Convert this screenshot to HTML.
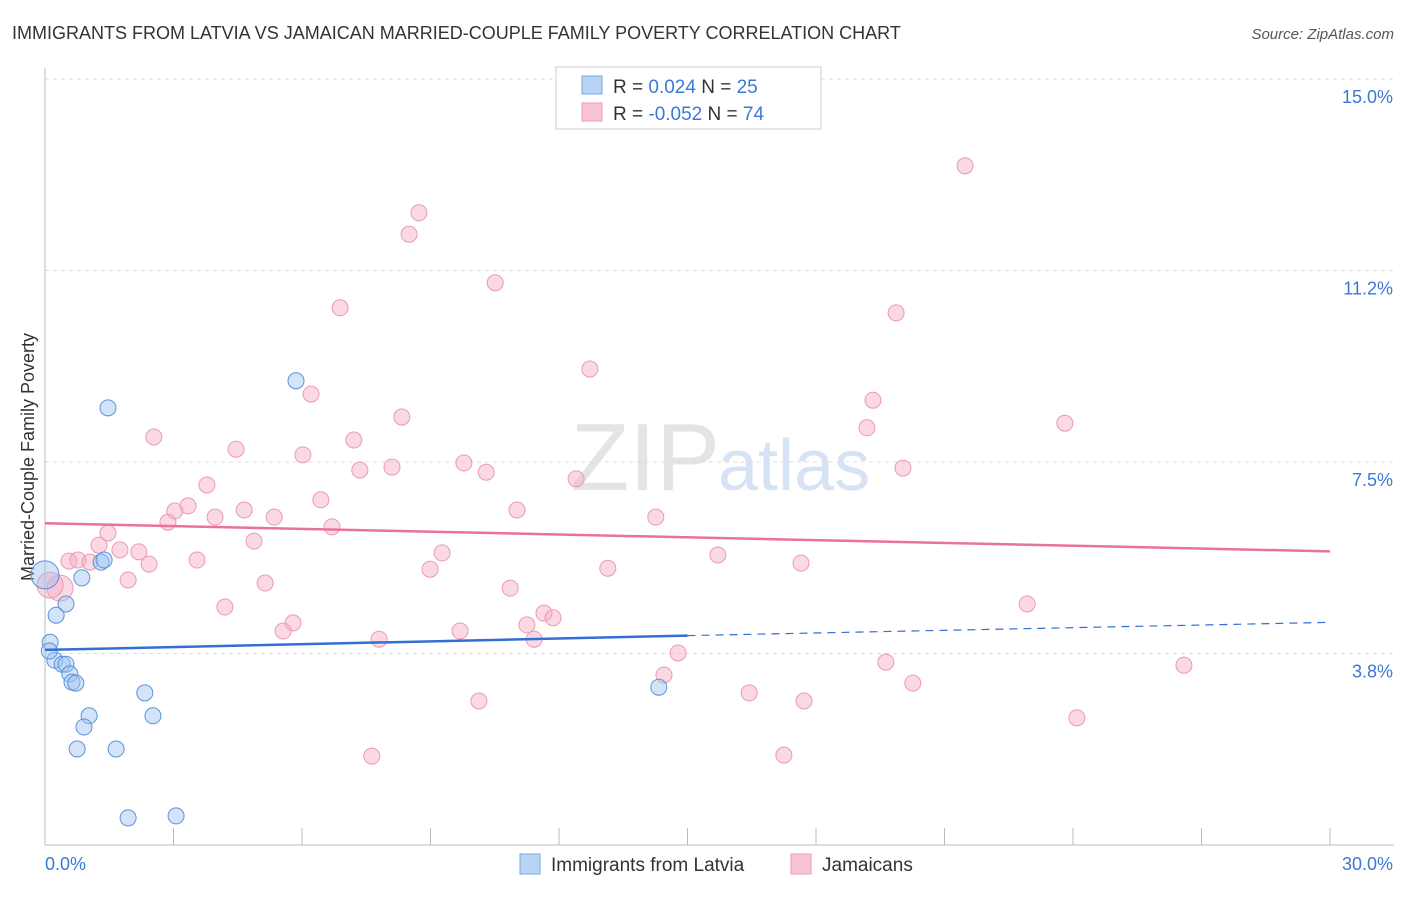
<!DOCTYPE html>
<html><head><meta charset="utf-8"><style>
body{margin:0;background:#fff;font-family:"Liberation Sans",sans-serif;}
svg text{font-family:"Liberation Sans",sans-serif;}
</style></head><body>
<svg id="c" width="1406" height="892" xmlns="http://www.w3.org/2000/svg">
<text x="12" y="39" font-size="18" fill="#333">IMMIGRANTS FROM LATVIA VS JAMAICAN MARRIED-COUPLE FAMILY POVERTY CORRELATION CHART</text>
<text x="1394" y="39" font-size="15" fill="#555" font-style="italic" text-anchor="end">Source: ZipAtlas.com</text>
<text x="0" y="0" transform="translate(34,457) rotate(-90)" font-size="18" fill="#333" text-anchor="middle">Married-Couple Family Poverty</text>
<text x="720" y="490" font-size="96" fill="#e4e4e4" text-anchor="end" font-family="Liberation Serif">ZIP</text>
<text x="718" y="490" font-size="72" fill="#d6e3f5">atlas</text>
<g id="grid"></g><g id="pts"></g><g id="lines"></g>
<g>
<rect x="556" y="67" width="265" height="62" fill="#fff" stroke="#ccc"/>
<rect x="582" y="76" width="20" height="18" fill="#b8d4f5" stroke="#7aa8e0"/>
<rect x="582" y="103" width="20" height="18" fill="#f9c5d4" stroke="#eb9ab2"/>
<text x="613" y="93" font-size="19" fill="#333">R = <tspan fill="#3b78d8">0.024</tspan>   N = <tspan fill="#3b78d8">25</tspan></text>
<text x="613" y="120" font-size="19" fill="#333">R = <tspan fill="#3b78d8">-0.052</tspan>   N = <tspan fill="#3b78d8">74</tspan></text>
</g>
<g>
<rect x="520" y="854" width="20" height="20" fill="#b8d4f5" stroke="#7aa8e0"/>
<text x="551" y="871" font-size="19" fill="#333">Immigrants from Latvia</text>
<rect x="791" y="854" width="20" height="20" fill="#f9c5d4" stroke="#eb9ab2"/>
<text x="822" y="871" font-size="19" fill="#333">Jamaicans</text>
</g>
</svg>
<script>
const xTicks=[0,3,6,9,12,15,18,21,24,27,30];
const yTicks=[3.75,7.5,11.25,15];
const yTickLabels=["3.8%","7.5%","11.2%","15.0%"];
const latviaX=[1.47,5.86,0.86,0.49,0.26,0.12,0.23,0.40,0.49,0.58,0.63,0.72,1.03,0.91,0.75,1.66,2.52,2.33,1.94,3.06,14.33,1.31,1.38,0.0,0.1];
const latviaY=[8.56,9.09,5.23,4.72,4.50,3.97,3.62,3.54,3.54,3.35,3.19,3.17,2.53,2.31,1.88,1.88,2.53,2.98,0.53,0.57,3.09,5.54,5.58,5.29,3.8];
const jamX=[21.48,8.73,8.50,10.51,6.89,19.87,12.72,6.21,19.33,8.33,23.81,19.19,2.54,7.21,4.46,6.02,9.78,8.10,7.35,10.30,20.03,12.40,3.78,6.44,3.34,3.03,4.65,11.02,14.26,2.87,3.97,5.35,6.70,1.47,4.88,1.26,1.75,2.19,0.56,0.77,1.05,3.55,2.43,9.27,15.71,17.65,13.14,8.99,1.94,5.14,10.86,0.35,0.12,4.20,22.93,11.65,11.86,5.79,11.25,5.56,9.69,7.80,11.42,14.78,19.63,14.45,26.59,20.26,16.44,10.13,17.72,24.09,7.63,17.25];
const jamY=[13.30,12.38,11.96,11.01,10.52,10.42,9.32,8.83,8.71,8.38,8.26,8.17,7.99,7.93,7.75,7.64,7.48,7.40,7.34,7.30,7.38,7.17,7.05,6.76,6.64,6.54,6.56,6.56,6.42,6.32,6.42,6.42,6.23,6.11,5.95,5.87,5.78,5.74,5.56,5.58,5.54,5.58,5.50,5.72,5.68,5.52,5.42,5.40,5.19,5.13,5.03,5.03,5.09,4.66,4.72,4.54,4.45,4.35,4.31,4.19,4.19,4.03,4.03,3.76,3.58,3.33,3.52,3.17,2.98,2.82,2.82,2.49,1.74,1.76];
const latviaTrend=[3.82,4.10,4.36];
const jamTrend=[6.30,5.75];
const X=v=>45+v/30*1285, Y=v=>845-v/15*766;
const NS="http://www.w3.org/2000/svg";
function mk(t,a,p){const e=document.createElementNS(NS,t);for(const k in a)e.setAttribute(k,a[k]);p.appendChild(e);return e;}
const g=document.getElementById('grid');
yTicks.forEach((t,i)=>{
 const l=mk('line',{x1:45,x2:1394,y1:Y(t),y2:Y(t),stroke:'#ddd','stroke-dasharray':'4,4'},g);
 
 
 const tx=mk('text',{x:1393,y:Y(t)+24,'font-size':18,fill:'#3b78d8','text-anchor':'end'},g);tx.textContent=yTickLabels[i];
 
 
});
mk('line',{x1:45,x2:45,y1:68,y2:845,stroke:'#bbb'},g);
mk('line',{x1:45,x2:1394,y1:845,y2:845,stroke:'#bbb'},g);
xTicks.forEach(t=>{const l=mk('line',{x1:X(t),x2:X(t),y1:828,y2:845,stroke:'#bbb'},g);
 
 });
let a=mk('text',{x:45,y:870,'font-size':18,fill:'#3b78d8'},g);a.textContent='0.0%';


a=mk('text',{x:1393,y:870,'font-size':18,fill:'#3b78d8','text-anchor':'end'},g);a.textContent='30.0%';


const P=document.getElementById('pts');
jamX.forEach((x,i)=>{const big=i==51||i==52;const c=mk('circle',{cx:X(x),cy:Y(jamY[i]),r:big?13:8,fill:'rgba(246,170,192,0.45)',stroke:'#eb9ab2','stroke-width':1},P);
 
 });
latviaX.forEach((x,i)=>{const big=i==23;const c=mk('circle',{cx:X(x),cy:Y(latviaY[i]),r:big?14:8,fill:'rgba(160,196,240,0.45)',stroke:'#5b92dc','stroke-width':1},P);
 
 });
const L=document.getElementById('lines');
let t1=mk('line',{x1:X(0),y1:Y(latviaTrend[0]),x2:X(15),y2:Y(latviaTrend[1]),stroke:'#2f6fd6','stroke-width':2.5},L);


let t2=mk('line',{x1:X(15),y1:Y(latviaTrend[1]),x2:X(30),y2:Y(latviaTrend[2]),stroke:'#2f6fd6','stroke-width':1.2,'stroke-dasharray':'8,6'},L);


let t3=mk('line',{x1:X(0),y1:Y(jamTrend[0]),x2:X(30),y2:Y(jamTrend[1]),stroke:'#e8729a','stroke-width':2.5},L);


</script>
</body></html>
